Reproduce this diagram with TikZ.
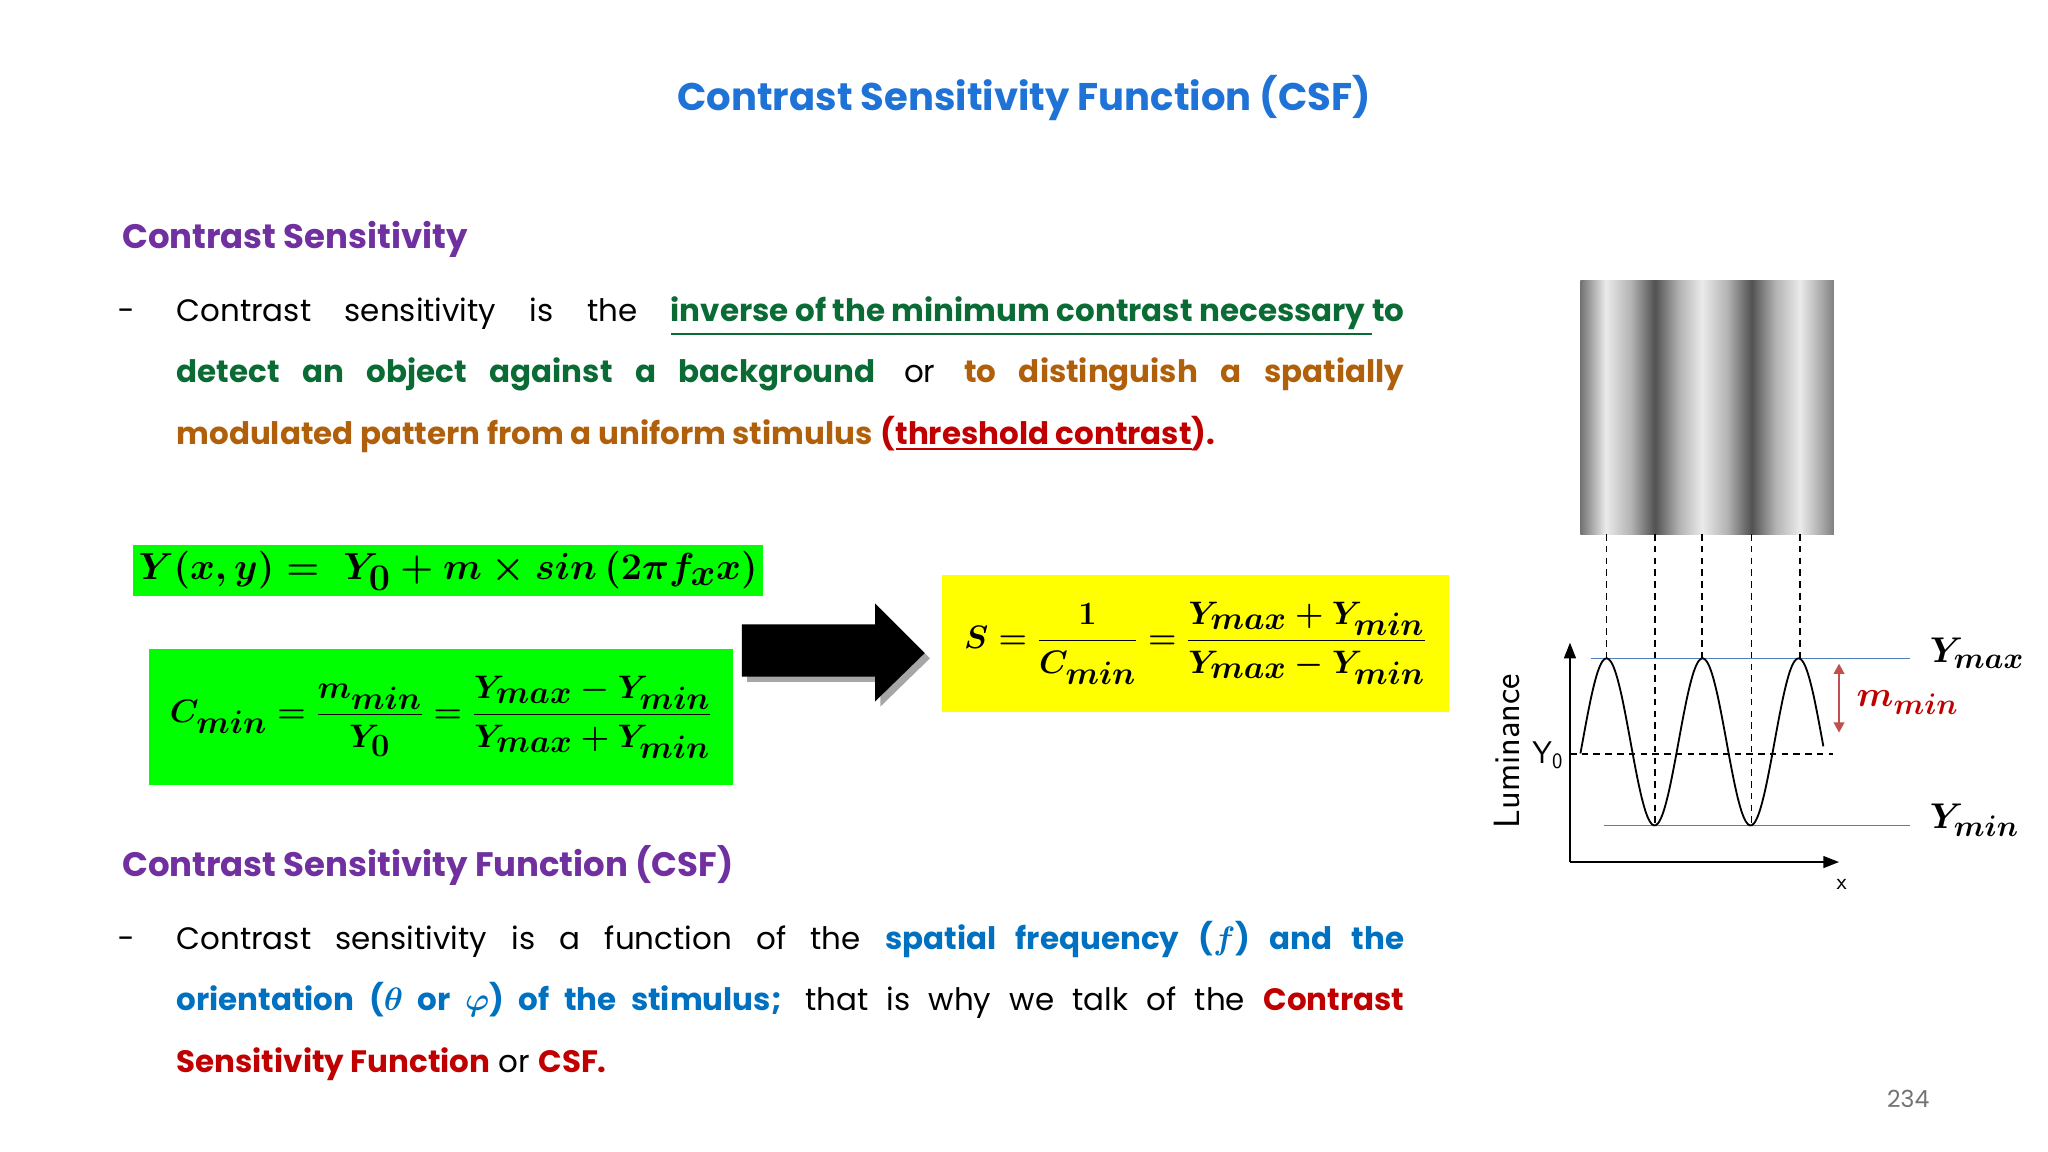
\documentclass[tikz,border=0pt]{standalone}
\usepackage{amsmath,bm,graphicx}
\usepackage{fontspec}
\setmainfont{Poppins}
\usetikzlibrary{arrows.meta}
\definecolor{ttlblue}{HTML}{1F73D6}
\definecolor{secpurple}{HTML}{7030A0}
\definecolor{dgreen}{HTML}{0B6B35}
\definecolor{brown}{HTML}{B0600A}
\definecolor{dred}{HTML}{C00000}
\definecolor{bblue}{HTML}{0070C0}
\definecolor{eqgreen}{HTML}{00FF00}
\definecolor{eqyellow}{HTML}{FFFF00}
\definecolor{refline}{HTML}{4F81BD}
\definecolor{arrred}{HTML}{C0504D}
\pgfdeclarehorizontalshading{grating}{100bp}{color(0bp)=(black!55);color(25bp)=(black!55);color(30bp)=(black!8);color(35bp)=(black!30);color(39.7bp)=(black!68);color(44.5bp)=(black!30);color(49bp)=(black!8);color(54bp)=(black!30);color(58.8bp)=(black!68);color(63.5bp)=(black!30);color(68.3bp)=(black!8);color(72bp)=(black!30);color(75bp)=(black!50);color(100bp)=(black!50)}
\newcommand{\jline}[1]{\makebox[940pt][s]{#1}}
\tikzset{
 ttl/.style={text=ttlblue,font=\fontsize{29.5}{36}\selectfont\bfseries},
 sec/.style={text=secpurple,font=\fontsize{26}{32}\selectfont\bfseries,anchor=base west},
 pline/.style={anchor=base west,inner sep=0pt,font=\fontsize{23.7}{30}\selectfont},
 eqbox/.style={inner sep=0pt,font=\fontsize{34}{40}\selectfont\boldmath},
 refl/.style={refline,line width=1.2pt},
 dsh/.style={dashed,line width=1.4pt,dash pattern=on 5pt off 4pt},
 lbl/.style={font=\fontsize{31}{34}\selectfont\boldmath}
}
\begin{document}
\begin{tikzpicture}[x=1pt,y=-1pt]
\useasboundingbox (0,0) rectangle (1568,882);
\fill[white] (0,0) rectangle (1568,882);
\node[ttl] (title) at (784,75) {Contrast Sensitivity Function (CSF)};
\node[sec] (s1) at (90,190) {Contrast Sensitivity};
\node[pline] (d1) at (90,246) {−};
\node[pline] (p1a) at (135,246) {\jline{Contrast sensitivity is the {\color{dgreen}\bfseries\underline{inverse\ of\ the\ minimum\ contrast\ necessary\ }to}}};
\node[pline] (p1b) at (135,293) {\jline{{\color{dgreen}\bfseries detect an object against a background} or {\color{brown}\bfseries to distinguish a spatially}}};
\node[pline] (p1c) at (135,340) {{\color{brown}\bfseries modulated pattern from a uniform stimulus} {\color{dred}\bfseries(\underline{threshold contrast}).}};

\node[eqbox,fill=eqgreen,minimum width=482pt,minimum height=39pt] (e1) at (343,437) {\scalebox{1.16}{$Y(x,y)=\;Y_0+m\times sin\,(2\pi f_x x)$}};
\node[eqbox,fill=eqgreen,minimum width=447pt,minimum height=104pt] (e2) at (337.5,549) {$C_{min}=\dfrac{m_{min}}{Y_0}=\dfrac{Y_{max}-Y_{min}}{Y_{max}+Y_{min}}$};
\fill[black!35] (572,482) -- (674,482) -- (674,466) -- (712,504) -- (674,541) -- (674,522) -- (572,522) -- cycle;
\fill[black] (568,478) -- (670,478) -- (670,462) -- (708,500) -- (670,537) -- (670,518) -- (568,518) -- cycle;
\node[eqbox,fill=eqyellow,minimum width=388pt,minimum height=105pt] (e3) at (915,492.5) {$S=\dfrac{1}{C_{min}}=\dfrac{Y_{max}+Y_{min}}{Y_{max}-Y_{min}}$};

\node[sec] (s2) at (90,671) {Contrast Sensitivity Function (CSF)};
\node[pline] (d2) at (90,727) {−};
\node[pline] (p2a) at (135,727) {\jline{Contrast sensitivity is a function of the {\color{bblue}\bfseries spatial frequency ($\bm f$) and the}}};
\node[pline] (p2b) at (135,774) {\jline{{\color{bblue}\bfseries orientation ($\bm\theta$ or $\bm\varphi$) of the stimulus;} that is why we talk of the {\color{dred}\bfseries Contrast}}};
\node[pline] (p2c) at (135,821) {{\color{dred}\bfseries Sensitivity Function} or {\color{dred}\bfseries CSF.}};
\node[text=black!55,font=\fontsize{18}{20}\selectfont] (pg) at (1461,841) {234};

% grating figure
\shade[shading=grating] (1210,215) rectangle (1404,409);
\foreach \x/\y in {1230/505,1267/632,1303/505,1341/632,1378/505}
  \draw[dsh] (\x,409) -- (\x,\y);
\draw[refl] (1218,504) -- (1462,504);
\draw[refl] (1228,632) -- (1462,632);
\draw[dsh] (1202,577) -- (1403,577);
\draw[line width=1.5pt,-{Triangle[length=12pt,width=9pt]}] (1202,660) -- (1202,492);
\draw[line width=1.5pt,-{Triangle[length=12pt,width=9pt]}] (1202,660) -- (1408,660);
\draw[line width=1.4pt,domain=-20:166,samples=120,smooth,shift={(1230,0)}] plot (\x,{568-64*cos(4.898*\x)});
\draw[arrred,line width=2pt,{Triangle[length=8pt,width=8pt]}-{Triangle[length=8pt,width=8pt]}] (1408,508) -- (1408,561);
\node[lbl,anchor=west] (ymax) at (1474,500) {\scalebox{1.1}{$Y_{max}$}};
\node[lbl,anchor=west,text=dred] (mmin) at (1418,538) {\scalebox{1.1}{$m_{min}$}};
\node[lbl,anchor=west] (ymin) at (1474,628) {\scalebox{1.1}{$Y_{min}$}};
\node[font=\fontsize{24}{28}\selectfont\sffamily] (y0) at (1185,578) {Y\textsubscript{0}};
\node[rotate=90,font=\fontsize{28}{30}\selectfont\sffamily] (lum) at (1154,575) {Luminance};
\node[font=\fontsize{18}{20}\selectfont\sffamily] (xl) at (1410,677) {x};
\end{tikzpicture}
\end{document}
